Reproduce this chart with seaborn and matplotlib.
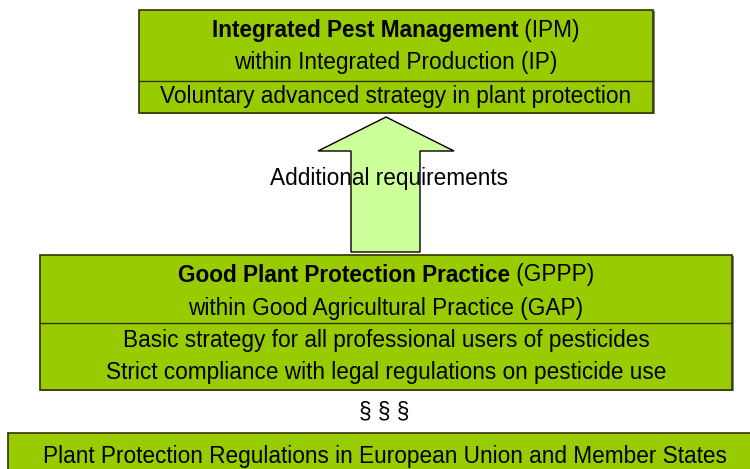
import matplotlib
matplotlib.use("Agg")
import matplotlib.pyplot as plt
from matplotlib.patches import Rectangle, Polygon
import seaborn as sns

# texts of the diagram
ipm_heading = ["Integrated Pest Management", "(IPM)"]
ipm_context = "within Integrated Production (IP)"
ipm_notes = ["Voluntary advanced strategy in plant protection"]
gppp_heading = ["Good Plant Protection Practice", "(GPPP)"]
gppp_context = "within Good Agricultural Practice (GAP)"
gppp_notes = ["Basic strategy for all professional users of pesticides",
              "Strict compliance with legal regulations on pesticide use"]
arrow_label = "Additional requirements"
law_symbol = "§ § §"
base_label = "Plant Protection Regulations in European Union and Member States"

sns.set_theme(style="white")
plt.rcParams['font.family'] = ['Liberation Sans', 'DejaVu Sans']
plt.rcParams['text.color'] = 'black'

GREEN = "#99cc00"
LIGHT = "#ccff99"
EDGE = "#333300"
FS = 16.3

fig = plt.figure(figsize=(7.5, 4.69), dpi=100)
ax = fig.add_axes([0, 0, 1, 1])
ax.set_xlim(0, 750)
ax.set_ylim(469, 0)
ax.axis("off")
renderer = fig.canvas.get_renderer()


def box(x0, y0, x1, y1, divider=None):
    ax.add_patch(Rectangle((x0 + 1.5, y0 + 1.5), x1 - x0, y1 - y0,
                           facecolor="#808080", edgecolor="none", zorder=1))
    ax.add_patch(Rectangle((x0, y0), x1 - x0, y1 - y0, facecolor=GREEN,
                           edgecolor=EDGE, lw=1.2, zorder=2))
    if divider is not None:
        ax.plot([x0, x1], [divider, divider], color=EDGE, lw=1.0, zorder=3)


def mixed(xc, y, bold, rest):
    t1 = ax.text(0, y, bold, fontsize=FS, fontweight="bold", va="center", zorder=5)
    t2 = ax.text(0, y, " " + rest, fontsize=FS, va="center", zorder=5)
    w1 = t1.get_window_extent(renderer).width
    w2 = t2.get_window_extent(renderer).width
    x0 = xc - (w1 + w2) / 2
    t1.set_x(x0)
    t2.set_x(x0 + w1)


def line(xc, y, s, **kw):
    ax.text(xc, y, s, fontsize=FS, ha="center", va="center", zorder=5, **kw)


# top box (IPM)
box(139, 10, 653, 113, divider=81)
mixed(396, 31, *ipm_heading)
line(396, 63, ipm_context)
for i, s in enumerate(ipm_notes):
    line(396, 97 + 32 * i, s)

# arrow
arrow = [(351, 252), (351, 151), (318, 151), (386, 117),
         (454, 151), (420, 151), (420, 252)]
ax.add_patch(Polygon(arrow, closed=True, facecolor=LIGHT, edgecolor="black",
                     lw=1.0, zorder=3))
line(389, 179, arrow_label)

# middle box (GPPP)
box(40, 255, 732, 390, divider=323)
mixed(386, 275, *gppp_heading)
line(386, 308, gppp_context)
for i, s in enumerate(gppp_notes):
    line(386, 340 + 32 * i, s)

line(384, 412, law_symbol)

# base box (regulations)
box(8, 433, 790, 500)
line(385, 456, base_label)

fig.savefig("out.png", dpi=100)
